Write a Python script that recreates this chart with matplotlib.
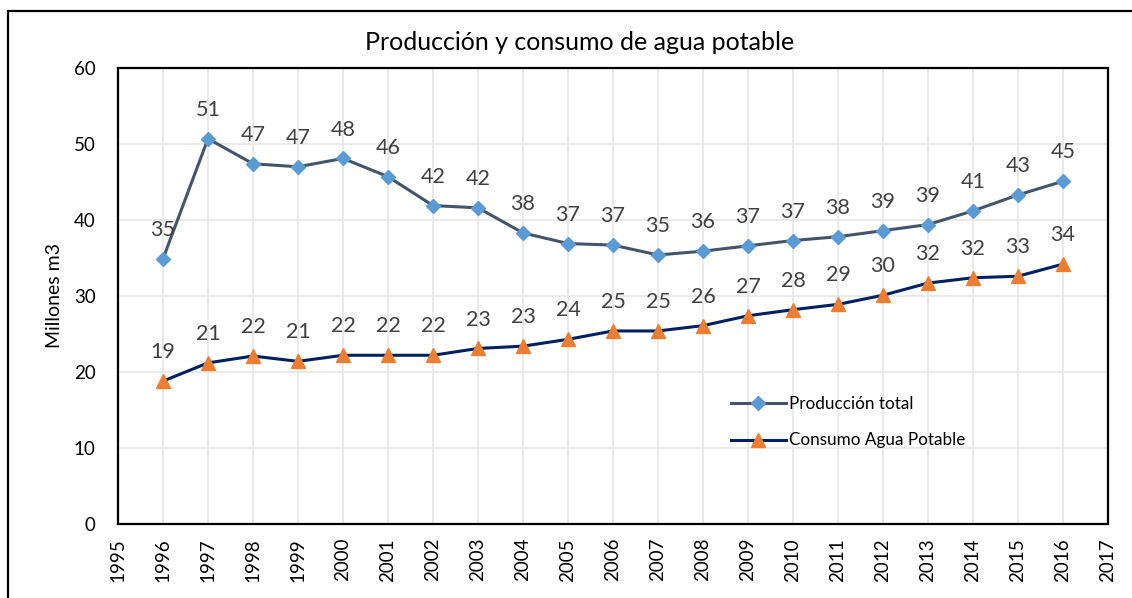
import matplotlib
matplotlib.use("Agg")
import matplotlib.pyplot as plt
from matplotlib.patches import Rectangle

years = list(range(1996, 2017))
produccion = [34.9, 50.7, 47.4, 47.0, 48.1, 45.7, 41.9, 41.6, 38.3, 36.9, 36.7,
              35.4, 35.9, 36.6, 37.3, 37.8, 38.6, 39.4, 41.2, 43.3, 45.1]
consumo = [18.8, 21.2, 22.1, 21.4, 22.2, 22.2, 22.2, 23.1, 23.4, 24.3, 25.4,
           25.4, 26.1, 27.4, 28.2, 28.9, 30.1, 31.7, 32.4, 32.6, 34.2]

title = "Producción y consumo de agua potable"
ylabel = "Millones m3"
label_prod = "Producción total"
label_cons = "Consumo Agua Potable"

plt.rcParams['font.family'] = ['Lato', 'DejaVu Sans']

fig = plt.figure(figsize=(11.32, 5.98), dpi=100)
ax = fig.add_axes([118/1132, 1 - 524/598, (1108-118)/1132, (524-68)/598])

# outer border
fig.patches.append(Rectangle((8/1132, 0 - 0.02), 1.1, (598-11)/598 + 0.02,
                             transform=fig.transFigure, fill=False,
                             edgecolor='black', linewidth=1.6, zorder=0))

txt_color = '#404040'
ax.plot(years, produccion, color='#44546A', linewidth=2.2, marker='D',
        markersize=7.5, markerfacecolor='#5B9BD5', markeredgecolor='#5B9BD5',
        label=label_prod, zorder=3)
ax.plot(years, consumo, color='#002060', linewidth=2.2, marker='^',
        markersize=10, markerfacecolor='#ED7D31', markeredgecolor='#ED7D31',
        label=label_cons, zorder=3)

for x, v in zip(years, produccion):
    ax.annotate(f"{v:.0f}", (x, v), xytext=(0, 16.5), textcoords='offset points',
                ha='center', va='baseline', fontsize=15.5, color=txt_color)
for x, v in zip(years, consumo):
    ax.annotate(f"{v:.0f}", (x, v), xytext=(0, 16.5), textcoords='offset points',
                ha='center', va='baseline', fontsize=15.5, color=txt_color)

ax.set_xlim(1995, 2017)
ax.set_ylim(0, 60)
ax.set_xticks(range(1995, 2018))
ax.set_xticklabels([str(y) for y in range(1995, 2018)], rotation=90)
ax.set_yticks(range(0, 61, 10))
ax.tick_params(axis='both', length=0, labelsize=13.5, colors='black')
ax.tick_params(axis='x', pad=10)
ax.tick_params(axis='y', pad=16)
ax.grid(True, color='#E6E6E6', linewidth=1.2, zorder=0)
ax.set_axisbelow(True)
for s in ax.spines.values():
    s.set_linewidth(1.6)
    s.set_color('black')

ax.set_ylabel(ylabel, fontsize=14, labelpad=8)
fig.text(580/1132, 1 - 42/598, title, ha='center', va='center', fontsize=18)

leg = ax.legend(loc='upper left', bbox_to_anchor=(731/1132, 1 - 396/598),
                bbox_transform=fig.transFigure, frameon=False, fontsize=12.3,
                handlelength=3.2, handletextpad=0.2, labelspacing=1.2,
                borderpad=0, borderaxespad=0)

fig.savefig("out.png", dpi=100)
